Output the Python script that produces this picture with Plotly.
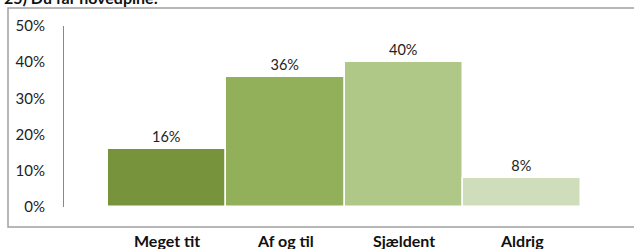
import plotly.graph_objects as go

categories = ["Meget tit", "Af og til", "Sjældent", "Aldrig"]
values = [16, 36, 40, 8]
labels = ["16%", "36%", "40%", "8%"]
colors = ["#77933C", "#92B05A", "#AFC888", "#D0DDBA"]
title = "25) Du får hovedpine:"
tick_vals = [0, 10, 20, 30, 40, 50]
tick_text = ["0%", "10%", "20%", "30%", "40%", "50%"]

FONT = "Lato, 'Open Sans', sans-serif"

fig = go.Figure()
fig.add_trace(go.Bar(
    x=list(range(len(categories))),
    y=values,
    width=1.0,
    marker=dict(color=colors, line=dict(color="white", width=1.5)),
    text=labels,
    textposition="outside",
    textfont=dict(family=FONT, size=14.5, color="#222222"),
    cliponaxis=False,
    hoverinfo="skip",
))

fig.update_layout(
    width=634, height=249,
    margin=dict(l=64, r=9, t=26, b=42, autoexpand=False),
    paper_bgcolor="white", plot_bgcolor="white",
    showlegend=False,
    bargap=0,
    xaxis=dict(range=[-0.87, 3.87], showgrid=False, zeroline=False,
               showline=False, showticklabels=False, fixedrange=True,
               automargin=False),
    yaxis=dict(range=[0, 50], tickvals=tick_vals, ticktext=tick_text,
               showgrid=False, zeroline=False, showline=True,
               linecolor="#888888", linewidth=1, ticks="",
               ticklabelstandoff=15, automargin=False, fixedrange=True,
               tickfont=dict(family=FONT, size=15, color="#222222")),
    font=dict(family=FONT),
)

# category labels below the chart box
for i, c in enumerate(categories):
    fig.add_annotation(x=i, y=0, xref="x", yref="paper", text="<b>%s</b>" % c,
                       showarrow=False, yanchor="top", yshift=-22,
                       font=dict(family=FONT, size=16, color="#111111"))

# title, partially cut at top
fig.add_annotation(x=0, y=1, xref="paper", yref="paper", xanchor="left",
                   yanchor="bottom", xshift=-62, yshift=17,
                   text="<b>%s</b>" % title, showarrow=False,
                   font=dict(family=FONT, size=16, color="#111111"))

# chart area border
fig.add_shape(type="rect", xref="paper", yref="paper",
              x0=-56 / 561, x1=1.05, y0=-20 / 181, y1=1 + 18 / 181,
              line=dict(color="#A0A0A0", width=1.5), fillcolor="rgba(0,0,0,0)",
              layer="below")

fig.write_html("out.html", config={"displayModeBar": False},
               post_script="document.body.style.margin='0';document.body.style.overflow='hidden';")
